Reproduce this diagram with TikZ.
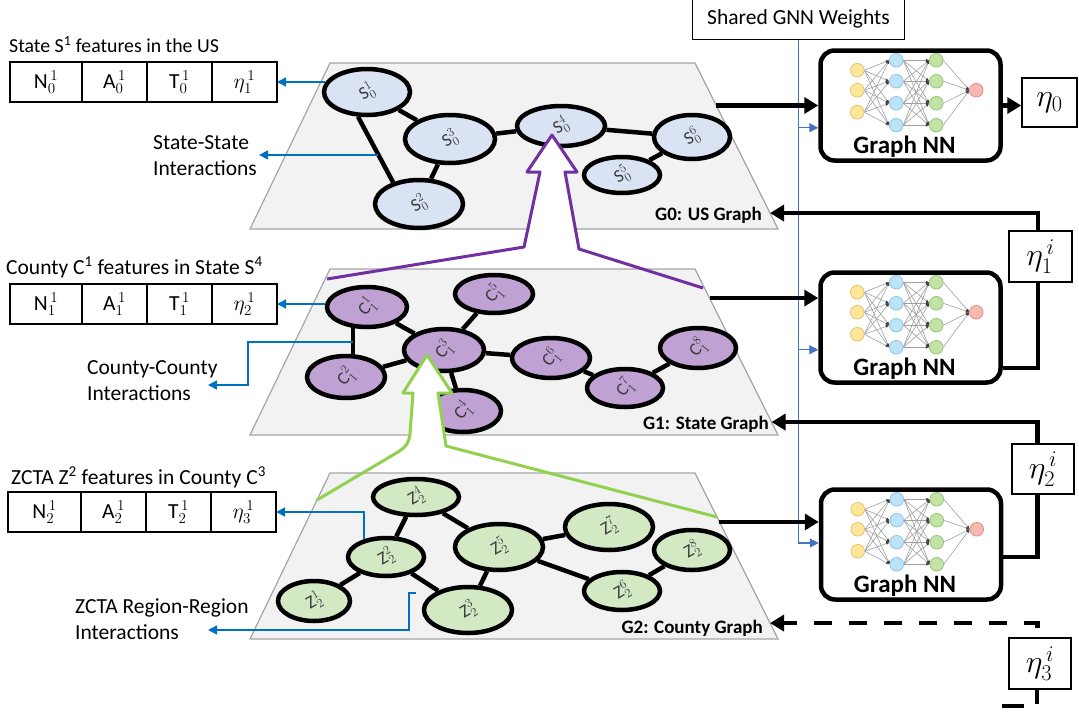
\documentclass[tikz,border=0pt]{standalone}
\usepackage{fix-cm}
\usepackage{fontspec}
\setmainfont{Carlito}
\usetikzlibrary{shapes.geometric,arrows.meta,calc}
\pgfdeclarelayer{background}
\pgfsetlayers{background,main}

\definecolor{planefill}{HTML}{F2F2F2}
\definecolor{planeedge}{HTML}{A6A6A6}
\definecolor{usblue}{HTML}{DAE3F3}
\definecolor{stpurple}{HTML}{BFA2D3}
\definecolor{zgreen}{HTML}{D2E9C4}
\definecolor{linkblue}{HTML}{0070C0}
\definecolor{shareblue}{HTML}{4472C4}
\definecolor{arrpurple}{HTML}{7030A0}
\definecolor{arrgreen}{HTML}{92D050}
\definecolor{labgray}{HTML}{3A3A3A}
\definecolor{nnyellow}{HTML}{FFE699}
\definecolor{nnyellowd}{HTML}{E2C46E}
\definecolor{nnblue}{HTML}{BDE3F7}
\definecolor{nnblued}{HTML}{8EC5E8}
\definecolor{nngreen}{HTML}{C3E3A6}
\definecolor{nngreend}{HTML}{94C77A}
\definecolor{nnred}{HTML}{F8B9B2}
\definecolor{nnredd}{HTML}{E38F86}
\definecolor{nnedge}{HTML}{A0A0A0}

\newcommand{\bodysize}{\fontsize{21.5}{26}\selectfont}

\tikzset{
  plane/.style={fill=planefill, draw=planeedge, line width=1.2},
  gnode/.style={ellipse, draw=black, line width=4.5, inner sep=0},
  nlab/.style={font=\fontsize{18}{18}\selectfont, text=labgray, inner sep=0},
  usn/.style={gnode, fill=usblue, label={[nlab, rotate=30]center:#1}},
  stn/.style={gnode, fill=stpurple, label={[nlab, rotate=50]center:#1}},
  zn/.style={gnode, fill=zgreen, label={[nlab, rotate=30]center:#1}},
  gedge/.style={line width=4.5, draw=black},
  cell/.style={draw=black, line width=1.5, outer sep=0, minimum height=40,
               inner sep=0, anchor=west, font=\bodysize},
  txt/.style={font=\bodysize, inner sep=0},
  glab/.style={font=\bfseries\fontsize{19}{19}\selectfont, inner sep=0, anchor=east},
  link/.style={draw=linkblue, line width=1.5, -{Triangle[length=9,width=9]}},
  share/.style={draw=shareblue, line width=1.3, -{Triangle[length=9,width=9]}},
  fb/.style={draw=black, line width=4.5, -{Triangle[length=14,width=16]}},
  nnbox/.style={draw=black, line width=4.5, rounded corners=14,
                minimum width=180, minimum height=110, fill=white},
  nntitle/.style={font=\bfseries\fontsize{25}{25}\selectfont, inner sep=0},
  etabox/.style={draw=black, line width=1.5, fill=white, inner sep=0,
                 font=\fontsize{32}{32}\selectfont},
  nnlink/.style={draw=nnedge, line width=0.6,
                 -{Latex[length=3.5,width=3,color=black!75]}},
  nnicon/.pic={
    \foreach \a in {22,42,64}{\foreach \b in {12,33,55,77}{\draw[nnlink] (46,\a) -- (71,\b);}}
    \foreach \a in {12,33,55,77}{\foreach \b in {12,33,55,77}{\draw[nnlink] (85,\a) -- (111,\b);}}
    \foreach \a in {12,33,55,77}{\draw[nnlink] (125,\a) -- (151,42);}
    \foreach \b in {22,42,64}{\draw[fill=nnyellow, draw=nnyellowd, line width=0.8] (39,\b) circle[radius=6.8pt];}
    \foreach \b in {12,33,55,77}{
      \draw[fill=nnblue, draw=nnblued, line width=0.8] (78,\b) circle[radius=6.8pt];
      \draw[fill=nngreen, draw=nngreend, line width=0.8] (118,\b) circle[radius=6.8pt];}
    \draw[fill=nnred, draw=nnredd, line width=0.8] (158,42) circle[radius=6.8pt];
  }
}

\begin{document}
\begin{tikzpicture}[x=1pt,y=-1pt]
\useasboundingbox (0,0) rectangle (1079,715);

% ---------- the three graph planes ----------
\coordinate (P0tl) at (330,63);  \coordinate (P0tr) at (695,63);
\coordinate (P0br) at (778,229); \coordinate (P0bl) at (250,229);
\coordinate (P1tl) at (330,269); \coordinate (P1tr) at (695,269);
\coordinate (P1br) at (778,435); \coordinate (P1bl) at (250,435);
\coordinate (P2tl) at (330,473); \coordinate (P2tr) at (695,473);
\coordinate (P2br) at (778,639); \coordinate (P2bl) at (250,639);

\begin{pgfonlayer}{background}
  \fill[white] (0,0) rectangle (1079,715);
  \draw[plane] (P0tl) -- (P0tr) -- (P0br) -- (P0bl) -- cycle;
  \draw[plane] (P1tl) -- (P1tr) -- (P1br) -- (P1bl) -- cycle;
  \draw[plane] (P2tl) -- (P2tr) -- (P2br) -- (P2bl) -- cycle;
\end{pgfonlayer}

% ---------- G0: US graph ----------
\node[usn={$\mathrm{S}_0^1$}, minimum width=86, minimum height=46] (S01) at (367,92) {};
\node[usn={$\mathrm{S}_0^3$}, minimum width=90, minimum height=48] (S03) at (450,139) {};
\node[usn={$\mathrm{S}_0^2$}, minimum width=88, minimum height=48] (S02) at (419,204) {};
\node[usn={$\mathrm{S}_0^4$}, minimum width=88, minimum height=40] (S04) at (561,126) {};
\node[usn={$\mathrm{S}_0^6$}, minimum width=76, minimum height=44] (S06) at (692,137) {};
\node[usn={$\mathrm{S}_0^5$}, minimum width=76, minimum height=36] (S05) at (622,175) {};
\node[glab] (g0lab) at (762,215) {G0: US Graph};

% ---------- G1: state graph ----------
\node[stn={$\mathrm{C}_1^1$}, minimum width=80, minimum height=40] (C11) at (367,307) {};
\node[stn={$\mathrm{C}_1^5$}, minimum width=78, minimum height=38] (C15) at (494,294) {};
\node[stn={$\mathrm{C}_1^3$}, minimum width=80, minimum height=42] (C13) at (444,350) {};
\node[stn={$\mathrm{C}_1^2$}, minimum width=78, minimum height=42] (C12) at (346,377) {};
\node[stn={$\mathrm{C}_1^4$}, minimum width=76, minimum height=42] (C14) at (463,411) {};
\node[stn={$\mathrm{C}_1^6$}, minimum width=78, minimum height=40] (C16) at (551,358) {};
\node[stn={$\mathrm{C}_1^7$}, minimum width=76, minimum height=38] (C17) at (625,388) {};
\node[stn={$\mathrm{C}_1^8$}, minimum width=76, minimum height=40] (C18) at (698,348) {};
\node[glab] (g1lab) at (769,424) {G1: State Graph};

% ---------- G2: county graph ----------
\node[zn={$\mathrm{Z}_2^4$}, minimum width=86, minimum height=36] (Z24) at (416,497) {};
\node[zn={$\mathrm{Z}_2^2$}, minimum width=76, minimum height=38] (Z22) at (386,557) {};
\node[zn={$\mathrm{Z}_2^1$}, minimum width=72, minimum height=40] (Z21) at (314,601) {};
\node[zn={$\mathrm{Z}_2^5$}, minimum width=88, minimum height=46] (Z25) at (499,547) {};
\node[zn={$\mathrm{Z}_2^3$}, minimum width=88, minimum height=46] (Z23) at (468,610) {};
\node[zn={$\mathrm{Z}_2^7$}, minimum width=88, minimum height=46] (Z27) at (609,527) {};
\node[zn={$\mathrm{Z}_2^8$}, minimum width=76, minimum height=40] (Z28) at (692,550) {};
\node[zn={$\mathrm{Z}_2^6$}, minimum width=76, minimum height=38] (Z26) at (622,591) {};
\node[glab] (g2lab) at (763,628) {G2: County Graph};

% ---------- graph edges, behind the nodes ----------
\begin{pgfonlayer}{background}
  \draw[gedge] (S01) -- (S03);
  \draw[gedge] (S01.250) -- (S02.140);
  \draw[gedge] (S03) -- (S02);
  \draw[gedge] (S03) -- (S04);
  \draw[gedge] (S04) -- (S06);
  \draw[gedge] (S06) -- (S05);
  \draw[gedge] (C11) -- (C13);
  \draw[gedge] ($(C11.center)+(-14,0)$) -- ($(C12.center)+(7,0)$);
  \draw[gedge] (C12) -- (C13);
  \draw[gedge] (C13) -- (C15);
  \draw[gedge] (C13) -- (C14);
  \draw[gedge] (C13) -- (C16);
  \draw[gedge] (C16) -- (C17);
  \draw[gedge] (C17) -- (C18);
  \draw[gedge] (Z24) -- (Z22);
  \draw[gedge] (Z24) -- (Z25);
  \draw[gedge] (Z22) -- (Z21);
  \draw[gedge] (Z22) -- (Z23);
  \draw[gedge] (Z25) -- (Z23);
  \draw[gedge] (Z25) -- (Z27);
  \draw[gedge] (Z25) -- (Z26);
  \draw[gedge] (Z26) -- (Z28);
\end{pgfonlayer}

% ---------- zoom arrows between levels ----------
\fill[white] (527,245) -- (540,172) -- (527,172) -- (552,135) -- (577,172)
  -- (565,172) -- (579,249) -- cycle;
\draw[arrpurple, line width=3, line join=round]
  (327,279) -- (524,247) -- (540,172) -- (527,172) -- (552,135) -- (577,172)
  -- (565,172) -- (579,249) -- (703,288);
\fill[white] (410,440) -- (413,393) -- (403,393) -- (427,355) -- (452,393)
  -- (438,393) -- (446,446) -- cycle;
\draw[arrgreen, line width=3, line join=round]
  (317,500) -- (398,452) .. controls (407,446) and (409,442) .. (410,434)
  -- (413,393) -- (403,393) -- (427,355) -- (452,393) -- (438,393)
  -- (446,446) -- (717,517);

% ---------- feature tables ----------
\node[txt, anchor=west, font=\fontsize{19.8}{24}\selectfont] (title0) at (9,45)
  {State S\textsuperscript{1} features in the US};
\node[cell, minimum width=72] (t0a) at (10,82) {$\mathrm{N}_0^{\,1}$};
\node[cell, minimum width=65] (t0b) at (t0a.east) {$\mathrm{A}_0^{\,1}$};
\node[cell, minimum width=65] (t0c) at (t0b.east) {$\mathrm{T}_0^{\,1}$};
\node[cell, minimum width=65] (t0d) at (t0c.east) {$\eta_1^{\,1}$};

\node[txt, anchor=west] (title1) at (6,267) {County C\textsuperscript{1} features in State S\textsuperscript{4}};
\node[cell, minimum width=72] (t1a) at (10,304) {$\mathrm{N}_1^{\,1}$};
\node[cell, minimum width=65] (t1b) at (t1a.east) {$\mathrm{A}_1^{\,1}$};
\node[cell, minimum width=65] (t1c) at (t1b.east) {$\mathrm{T}_1^{\,1}$};
\node[cell, minimum width=65] (t1d) at (t1c.east) {$\eta_2^{\,1}$};

\node[txt, anchor=west] (title2) at (11,477) {ZCTA Z\textsuperscript{2} features in County C\textsuperscript{3}};
\node[cell, minimum width=73] (t2a) at (8,512) {$\mathrm{N}_2^{\,1}$};
\node[cell, minimum width=65] (t2b) at (t2a.east) {$\mathrm{A}_2^{\,1}$};
\node[cell, minimum width=65] (t2c) at (t2b.east) {$\mathrm{T}_2^{\,1}$};
\node[cell, minimum width=65] (t2d) at (t2c.east) {$\eta_3^{\,1}$};

% ---------- interaction labels and blue links ----------
\node[txt, align=left, anchor=west] (ssl) at (153,156) {State-State\\Interactions};
\node[txt, align=left, anchor=west] (ccl) at (87,381) {County-County\\Interactions};
\node[txt, align=left, anchor=west] (zrl) at (75,619) {ZCTA Region-Region\\Interactions};

\draw[link] ($(S01.center)+(-42,-10)$) -- (t0d.east);
\coordinate (ss) at ($(S01.250)!0.583!(S02.140)$);
\draw[link] (ss) -- ($(ss -| ssl.east)+(2,0)$);

\draw[link] (C11.west |- t1d.east) -- (t1d.east);
\coordinate (cc) at ($(C11.center)!0.5!(C12.center)+(-3.5,0)$);
\coordinate (ccend) at (208,385);
\draw[link] (cc) -- ++(-105,0) |- (ccend);

\draw[link] ($(Z22.center)+(-22,-18)$) |- (t2d.east);
\coordinate (zr) at (416,593);
\coordinate (zrend) at (208,630);
\draw[link] (zr) -- ++(-7,0) |- (zrend);

% ---------- shared GNN and feedback loop ----------
\node[draw=black, line width=1.5, minimum width=212, minimum height=42,
      inner sep=0, font=\bodysize] (Shared) at (798.5,18.5) {Shared GNN Weights};

\node[nnbox] (NN1) at (910.5,105.5) {};
\node[nnbox] (NN2) at (910.5,327.5) {};
\node[nnbox] (NN3) at (911,544.5) {};
\pic at (NN1.north west) {nnicon};
\pic at (NN2.north west) {nnicon};
\pic at (NN3.north west) {nnicon};
\node[nntitle] (nn1lab) at ($(NN1.center)+(-6,41)$) {Graph NN};
\node[nntitle] (nn2lab) at ($(NN2.center)+(-6,41)$) {Graph NN};
\node[nntitle] (nn3lab) at ($(NN3.center)+(-6,41)$) {Graph NN};

\coordinate (w1) at ($(NN1.south west)+(0,-35)$);
\coordinate (w2) at ($(NN2.south west)+(0,-35)$);
\draw[share] (Shared.south) |- ($(NN3.west)+(0,-1.5)$);
\draw[share] (Shared.south |- w1) -- (w1);
\draw[share] (Shared.south |- w2) -- (w2);

\coordinate (G0out) at ($(P0tr)!0.256!(P0br)$);
\coordinate (G1out) at ($(P1tr)!0.175!(P1br)$);
\coordinate (G2out) at ($(P2tr)!0.295!(P2br)$);
\coordinate (G0in)  at ($(P0tr)!0.904!(P0br)$);
\coordinate (G1in)  at ($(P1tr)!0.922!(P1br)$);
\coordinate (G2in)  at ($(P2tr)!0.904!(P2br)$);

\draw[fb] (G0out) -- (G0out -| NN1.west);
\draw[fb] (G1out) -- (G1out -| NN2.west);
\draw[fb] (G2out) -- (G2out -| NN3.west);

\draw[fb] ($(NN2.south east)+(0,-17)$) -- ++(35,0) |- (G0in);
\draw[fb] ($(NN3.south east)+(0,-45)$) -- ++(34,0) |- (G1in);
\coordinate (dcorner) at ($(G2in -| NN3.south east)+(34,0)$);
\draw[fb, dash pattern=on 18 off 17] ($(dcorner)+(0,5)$) -- (dcorner) -- (G2in);

\node[etabox, minimum width=55, minimum height=49] (eta0) at (1049.5,102.5) {$\eta_0$};
\draw[fb] (NN1.east) -- (NN1.east -| eta0.west);
\node[etabox, minimum width=63, minimum height=51] (eta1) at (1040.5,256.5) {$\eta_1^{\,i}$};
\node[etabox, minimum width=62, minimum height=50] (eta2) at (1043,469) {$\eta_2^{\,i}$};
\node[etabox, minimum width=62, minimum height=51] (eta3) at (1040,663.5) {$\eta_3^{\,i}$};
\draw[line width=4.5, dash pattern=on 14 off 15 on 22 off 200]
  ($(eta3.south)+(-3,0)$) -- ++(0,16) -- ++(-45,0);

\end{tikzpicture}
\end{document}
